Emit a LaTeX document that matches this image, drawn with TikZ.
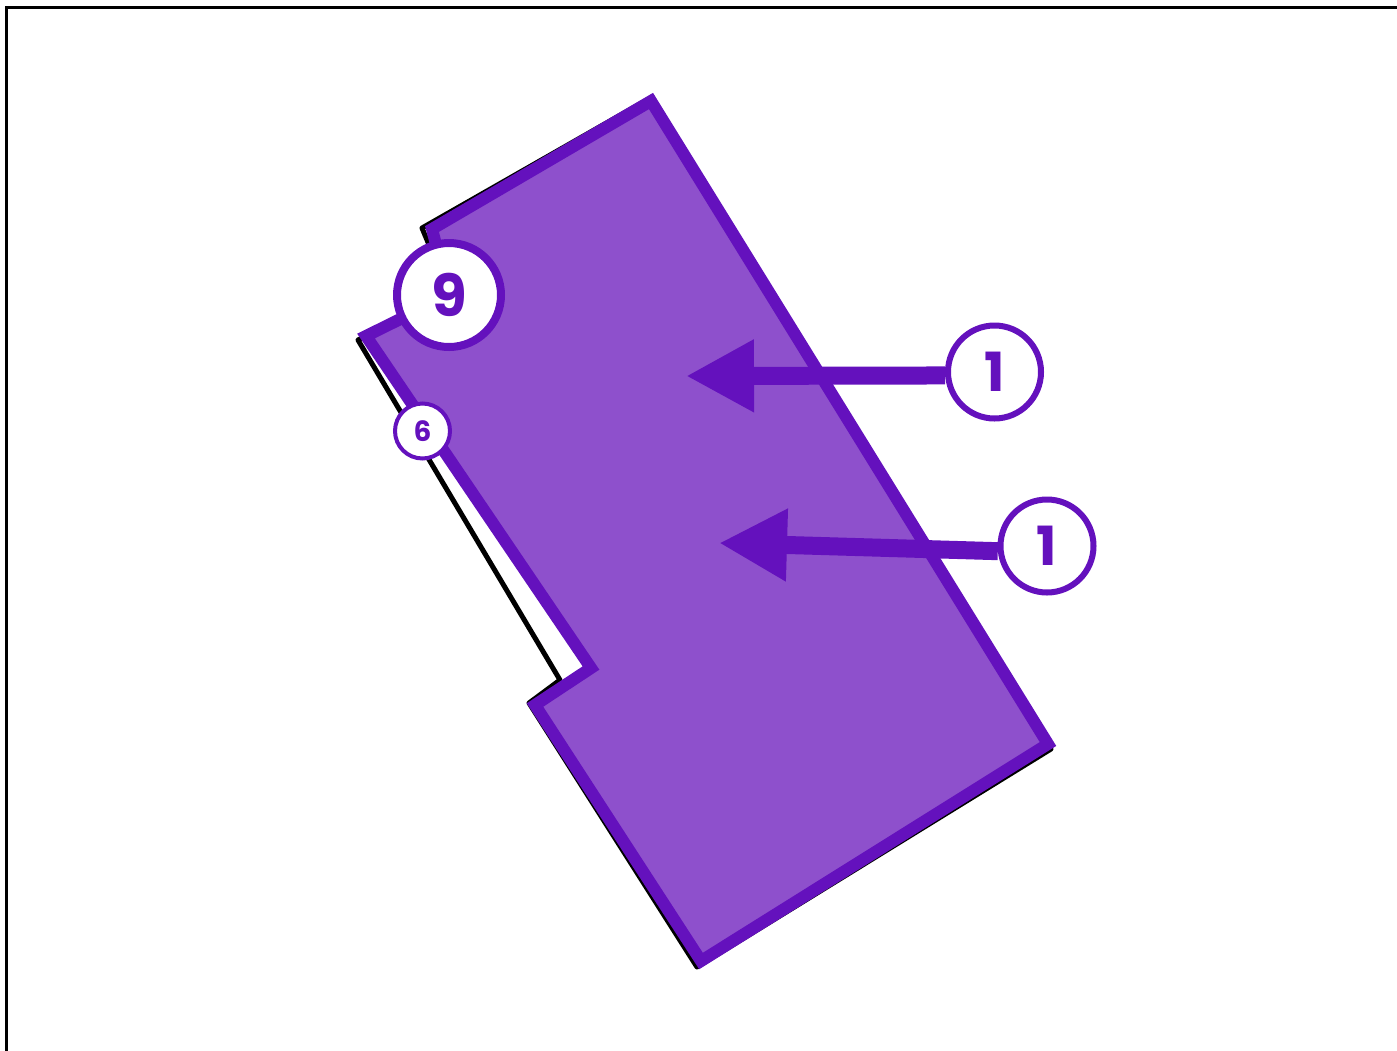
\documentclass[tikz,border=0pt]{standalone}
\usepackage{fontspec}
\setmainfont{Poppins}
\usetikzlibrary{arrows.meta}
\definecolor{pstroke}{HTML}{6411BD}
\definecolor{pfill}{HTML}{8E50CC}
\begin{document}
\begin{tikzpicture}[x=1pt,y=-1pt,
  badge/.style={circle, draw=pstroke, fill=white, text=pstroke, font=\bfseries, inner sep=0pt},
  bigbadge/.style={badge, minimum size=93pt, line width=6pt},
  pointer/.style={draw=pstroke, line width=18pt, -{Triangle[length=68pt,width=68pt]}},
  outline/.style={draw=black, line width=5pt, line join=round},
  region/.style={draw=pstroke, fill=pfill, line width=12pt, line join=miter}]
\useasboundingbox (0,0) rectangle (1397,1050);
\begin{scope}
  \clip (0,0) rectangle (1397,1050);
  \draw[line width=3pt] (6.5,7.5) rectangle (1430,1090);
\end{scope}
% original outline (black)
\draw[outline] (652,97) -- (1051,749) -- (697,967) -- (529,703) -- (560,680)
  -- (358,340) -- (415,312) -- (432,252) -- (422,228) -- cycle;
% purple region
\draw[region] (651,101) -- (1048,744) -- (701,961) -- (535,705) -- (591,668)
  -- (366,336) -- (449,295) -- (432,229) -- cycle;
% callouts
\coordinate (t1) at (686,376);
\coordinate (t2) at (719,543);
\node[bigbadge] (c1) at (994.5,372) {\fontsize{54}{60}\selectfont 1};
\node[bigbadge] (c2) at (1047,546) {\fontsize{54}{60}\selectfont 1};
\draw[pointer] (c1.184) -- (t1);
\draw[pointer] (c2.186) -- (t2);
\node[badge, minimum size=104pt, line width=8pt] (c9) at (449,295) {\fontsize{58}{62}\selectfont 9};
\node[badge, minimum size=55pt, line width=4pt] (c6) at (422.5,431) {\fontsize{28}{32}\selectfont 6};
\end{tikzpicture}
\end{document}
